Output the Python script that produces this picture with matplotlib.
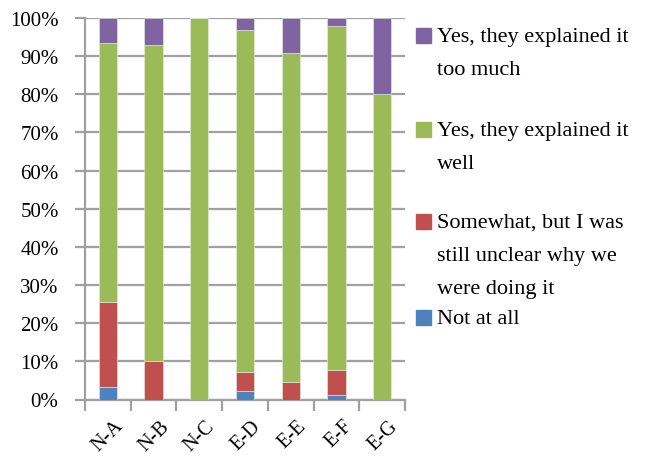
import matplotlib
matplotlib.use("Agg")
import matplotlib.pyplot as plt
from matplotlib.patches import Rectangle
import numpy as np

categories = ["N-A", "N-B", "N-C", "E-D", "E-E", "E-F", "E-G"]
not_at_all = [3.2, 0.0, 0.0, 2.1, 0.0, 1.3, 0.0]
somewhat = [22.4, 10.1, 0.0, 5.0, 4.7, 6.4, 0.0]
well = [67.8, 82.7, 100.0, 89.8, 86.1, 90.1, 80.0]
too_much = [6.6, 7.2, 0.0, 3.1, 9.2, 2.2, 20.0]
series_labels = ["Not at all",
                 "Somewhat, but I was\nstill unclear why we\nwere doing it",
                 "Yes, they explained it\nwell",
                 "Yes, they explained it\ntoo much"]
yticks = list(range(0, 101, 10))

colors = ["#4F81BD", "#C0504D", "#9BBB59", "#8064A2"]
plt.rcParams['font.family'] = ['Liberation Serif', 'DejaVu Serif']

W, H = 649, 460
fig = plt.figure(figsize=(W / 100, H / 100), dpi=100)
ax = fig.add_axes([85 / W, (H - 400.5) / H, 320 / W, 381.5 / H])

x = np.arange(len(categories))
bottom = np.zeros(len(categories))
for vals, c in zip([not_at_all, somewhat, well, too_much], colors):
    ax.bar(x, vals, 0.4, bottom=bottom, color=c, edgecolor="#e8f0e0", linewidth=0.4, zorder=3)
    bottom += np.array(vals)

grid_c = "#a0a0a0"
ax.set_xlim(-0.5, len(categories) - 0.5)
ax.set_ylim(0, 100)
ax.set_yticks(yticks)
ax.set_yticklabels([f"{v}%" for v in yticks], fontsize=15)
ax.yaxis.grid(True, color=grid_c, linewidth=1.6, zorder=0)
ax.set_axisbelow(True)
for s in ["top", "right"]:
    ax.spines[s].set_visible(False)
for s in ["left", "bottom"]:
    ax.spines[s].set_color(grid_c)
    ax.spines[s].set_linewidth(1.6)
ax.tick_params(axis="y", length=7, width=1.6, color=grid_c, pad=12)

ax.set_xticks(x)
ax.set_xticklabels(categories, fontsize=14.5, rotation=45, ha="right",
                   rotation_mode="anchor")
ax.set_xticks(np.arange(-0.5, len(categories), 1.0), minor=True)
ax.tick_params(axis="x", which="major", length=0, pad=12)
ax.tick_params(axis="x", which="minor", length=8, width=1.6, color=grid_c)
for lab in ax.get_xticklabels():
    lab.set_transform(lab.get_transform() + matplotlib.transforms.ScaledTranslation(6 / 100, 0, fig.dpi_scale_trans))

# legend (manual layout, mirroring the reference)
entries = [(3, 36), (2, 130), (1, 222), (0, 318)]
for idx, yc in entries:
    fig.patches.append(Rectangle((416 / W, (H - yc - 7.5) / H), 15 / W, 15 / H,
                                 transform=fig.transFigure, color=colors[idx]))
    fig.text(437 / W, (H - yc) / H + 8 / H, series_labels[idx], fontsize=16,
             va="top", ha="left", linespacing=2.0)

fig.savefig("out.png", dpi=100)
